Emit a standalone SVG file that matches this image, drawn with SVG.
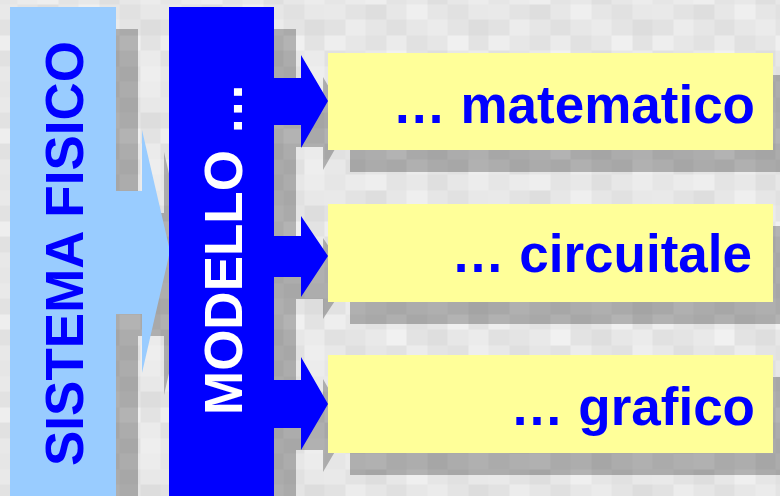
<svg xmlns="http://www.w3.org/2000/svg" width="780" height="496" viewBox="0 0 780 496">
<style>
.lb{fill:#99CCFF}
.db{fill:#0000FF}
.yb{fill:#FFFF99}
.t{font-family:"Liberation Sans",Arial,sans-serif;font-weight:bold;font-size:53px}
.tb{fill:#0000FF}
.tw{fill:#FFFFFF}
.sh{fill:#000000}
</style>
<defs>
<pattern id="mosaic" patternUnits="userSpaceOnUse" x="-3.5" y="-11.5" width="164" height="93">
<g shape-rendering="crispEdges">
<rect x="0" y="0" width="20.5" height="15.5" fill="#E6E6E6"/><rect x="20.5" y="0" width="20.5" height="15.5" fill="#EBEBEB"/><rect x="41" y="0" width="20.5" height="15.5" fill="#EEEEEE"/><rect x="61.5" y="0" width="20.5" height="15.5" fill="#E4E4E4"/><rect x="82" y="0" width="20.5" height="15.5" fill="#E8E8E8"/><rect x="102.5" y="0" width="20.5" height="15.5" fill="#DFDFDF"/><rect x="123" y="0" width="20.5" height="15.5" fill="#E7E7E7"/><rect x="143.5" y="0" width="20.5" height="15.5" fill="#ECECEC"/>
<rect x="0" y="15.5" width="20.5" height="15.5" fill="#E9E9E9"/><rect x="20.5" y="15.5" width="20.5" height="15.5" fill="#E3E3E3"/><rect x="41" y="15.5" width="20.5" height="15.5" fill="#DEDEDE"/><rect x="61.5" y="15.5" width="20.5" height="15.5" fill="#E7E7E7"/><rect x="82" y="15.5" width="20.5" height="15.5" fill="#EFEFEF"/><rect x="102.5" y="15.5" width="20.5" height="15.5" fill="#E6E6E6"/><rect x="123" y="15.5" width="20.5" height="15.5" fill="#E1E1E1"/><rect x="143.5" y="15.5" width="20.5" height="15.5" fill="#E8E8E8"/>
<rect x="0" y="31" width="20.5" height="15.5" fill="#E2E2E2"/><rect x="20.5" y="31" width="20.5" height="15.5" fill="#ECECEC"/><rect x="41" y="31" width="20.5" height="15.5" fill="#E6E6E6"/><rect x="61.5" y="31" width="20.5" height="15.5" fill="#E0E0E0"/><rect x="82" y="31" width="20.5" height="15.5" fill="#E7E7E7"/><rect x="102.5" y="31" width="20.5" height="15.5" fill="#EBEBEB"/><rect x="123" y="31" width="20.5" height="15.5" fill="#E4E4E4"/><rect x="143.5" y="31" width="20.5" height="15.5" fill="#DDDDDD"/>
<rect x="0" y="46.5" width="20.5" height="15.5" fill="#EEEEEE"/><rect x="20.5" y="46.5" width="20.5" height="15.5" fill="#E7E7E7"/><rect x="41" y="46.5" width="20.5" height="15.5" fill="#E2E2E2"/><rect x="61.5" y="46.5" width="20.5" height="15.5" fill="#EBEBEB"/><rect x="82" y="46.5" width="20.5" height="15.5" fill="#E1E1E1"/><rect x="102.5" y="46.5" width="20.5" height="15.5" fill="#E6E6E6"/><rect x="123" y="46.5" width="20.5" height="15.5" fill="#F0F0F0"/><rect x="143.5" y="46.5" width="20.5" height="15.5" fill="#E3E3E3"/>
<rect x="0" y="62" width="20.5" height="15.5" fill="#E1E1E1"/><rect x="20.5" y="62" width="20.5" height="15.5" fill="#E4E4E4"/><rect x="41" y="62" width="20.5" height="15.5" fill="#E9E9E9"/><rect x="61.5" y="62" width="20.5" height="15.5" fill="#F1F1F1"/><rect x="82" y="62" width="20.5" height="15.5" fill="#E3E3E3"/><rect x="102.5" y="62" width="20.5" height="15.5" fill="#DEDEDE"/><rect x="123" y="62" width="20.5" height="15.5" fill="#E7E7E7"/><rect x="143.5" y="62" width="20.5" height="15.5" fill="#EBEBEB"/>
<rect x="0" y="77.5" width="20.5" height="15.5" fill="#E8E8E8"/><rect x="20.5" y="77.5" width="20.5" height="15.5" fill="#DFDFDF"/><rect x="41" y="77.5" width="20.5" height="15.5" fill="#E6E6E6"/><rect x="61.5" y="77.5" width="20.5" height="15.5" fill="#E2E2E2"/><rect x="82" y="77.5" width="20.5" height="15.5" fill="#ECECEC"/><rect x="102.5" y="77.5" width="20.5" height="15.5" fill="#E4E4E4"/><rect x="123" y="77.5" width="20.5" height="15.5" fill="#E1E1E1"/><rect x="143.5" y="77.5" width="20.5" height="15.5" fill="#EEEEEE"/>
</g>
</pattern>
</defs>

<rect id="background" x="0" y="0" width="780" height="496" fill="url(#mosaic)"/>

<g id="shadows" class="sh" opacity="0.25" transform="translate(22,22)">
<polygon points="10,7 116,7 116,191 142,191 142,130 170,251 142,373 142,314 116,314 116,496 10,496"/>
<rect x="169" y="7" width="105" height="489"/>
<polygon points="273,78 301,78 301,55 328,101 301,148 301,125 273,125"/>
<polygon points="273,236 301,236 301,216 328,256 301,297 301,277 273,277"/>
<polygon points="273,380 301,380 301,357 328,404 301,450 301,428 273,428"/>
<rect x="328" y="53" width="445" height="97"/>
<rect x="328" y="204" width="445" height="98"/>
<rect x="328" y="355" width="445" height="98"/>
</g>

<g id="connectors">
<polygon class="lb" points="115,191 142,191 142,130 170,251 142,373 142,314 115,314"/>
<polygon class="db" points="273,78 301,78 301,55 328,101 301,148 301,125 273,125"/>
<polygon class="db" points="273,236 301,236 301,216 328,256 301,297 301,277 273,277"/>
<polygon class="db" points="273,380 301,380 301,357 328,404 301,450 301,428 273,428"/>
</g>

<g id="sistema-fisico">
<rect class="lb" x="10" y="7" width="106" height="489"/>
<text class="t tb" transform="translate(83,466) rotate(-90)">SISTEMA FISICO</text>
</g>

<g id="modello">
<rect class="db" x="169" y="7" width="105" height="489"/>
<text class="t tw" transform="translate(242,415) rotate(-90)">MODELLO …</text>
</g>

<g id="matematico">
<rect class="yb" x="328" y="53" width="445" height="97"/>
<text class="t tb" x="755" y="123" text-anchor="end">… matematico</text>
</g>

<g id="circuitale">
<rect class="yb" x="328" y="204" width="445" height="98"/>
<text class="t tb" x="752" y="272" text-anchor="end">… circuitale</text>
</g>

<g id="grafico">
<rect class="yb" x="328" y="355" width="445" height="98"/>
<text class="t tb" x="755" y="425" text-anchor="end">… grafico</text>
</g>
</svg>
